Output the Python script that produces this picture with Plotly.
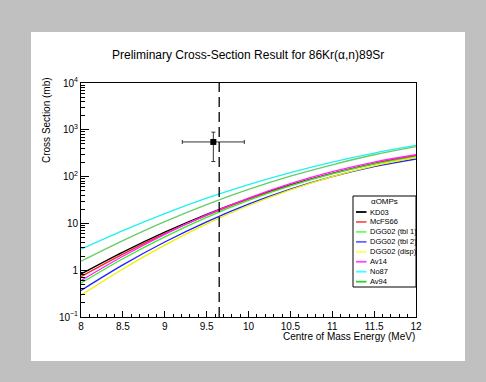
import plotly.graph_objects as go

# ---------------- data ----------------
energy = [8.0, 8.5, 9.0, 9.5, 10.0, 10.5, 11.0, 11.5, 12.0]

series_names = ["KD03", "McFS66", "DGG02 (tbl 1)", "DGG02 (tbl 2)", "DGG02 (disp)", "Av14", "No87", "Av94"]
series_colors = ["#000000", "#ff2020", "#33ee33", "#2020ff", "#f0f000", "#ff20ff", "#20f0f0", "#66cc66"]
legend_colors = ["#000000", "#ff5555", "#66ff66", "#6666ff", "#ffff55", "#ff44ff", "#44ffff", "#33cc33"]

kd03 = [0.83, 2.44, 6.51, 15.7, 33.9, 66.2, 117, 190, 279]
mcfs66 = [0.73, 2.21, 6.07, 14.9, 33.0, 65.3, 117, 190, 281]
dgg02_tbl1 = [0.53, 1.76, 5.17, 13.5, 31.0, 63.1, 114, 185, 268]
dgg02_tbl2 = [0.37, 1.30, 4.00, 10.8, 25.8, 54.0, 99.5, 163, 238]
dgg02_disp = [0.29, 1.06, 3.43, 9.73, 24.1, 52.3, 100, 170, 256]
av14 = [0.60, 1.99, 5.84, 15.2, 34.7, 70.5, 127, 204, 293]
no87 = [2.8, 7.0, 16.2, 34.6, 67.5, 122, 205, 319, 464]
av94 = [1.55, 4.28, 10.9, 25.2, 53.1, 102, 179, 293, 439]
series_values = [kd03, mcfs66, dgg02_tbl1, dgg02_tbl2, dgg02_disp, av14, no87, av94]

# measured point
meas_E = [9.58]
meas_xs = [550]
meas_E_err = [0.37]
meas_xs_err = [340]

threshold_E = 9.65

x_tickvals = [8, 8.5, 9, 9.5, 10, 10.5, 11, 11.5, 12]
x_ticktext = ["8", "8.5", "9", "9.5", "10", "10.5", "11", "11.5", "12"]
y_tickvals = [0.1, 1, 10, 100, 1000, 10000]
y_ticktext = ["10<sup>−1</sup>", "1", "10", "10<sup>2</sup>", "10<sup>3</sup>", "10<sup>4</sup>"]
y_minor = [m * 10 ** d for d in range(-1, 4) for m in range(2, 10)]

title_text = "Preliminary Cross-Section Result for 86Kr(α,n)89Sr"
x_title = "Centre of Mass Energy (MeV)"
y_title = "Cross Section (mb)"
legend_title = "αOMPs"

# ---------------- layout geometry ----------------
# white pad (the figure) placed inside a grey page
PAD_X, PAD_Y, PAD_W, PAD_H = 31, 32, 434, 329
L, T, PW, PH = 81, 83, 335, 234          # plot area in window pixels
FONT = "Liberation Sans, Arial, Helvetica, sans-serif"
GRAY = "#c0c0c0"


def px(x):
    return (x - L) / PW


def py(y):
    return (T + PH - y) / PH


fig = go.Figure()

for name, vals, col in zip(series_names, series_values, series_colors):
    fig.add_trace(go.Scatter(x=energy, y=vals, mode="lines", name=name,
                             line=dict(color=col, width=1.3, shape="spline"),
                             showlegend=False))

fig.add_trace(go.Scatter(
    x=meas_E, y=meas_xs, mode="markers", showlegend=False,
    marker=dict(symbol="square", size=6, color="black"),
    error_x=dict(type="data", array=meas_E_err, color="#333333", thickness=1, width=2),
    error_y=dict(type="data", array=meas_xs_err, color="#333333", thickness=1, width=2),
))

fig.update_layout(
    width=PAD_W, height=PAD_H,
    margin=dict(l=L - PAD_X, r=PAD_X + PAD_W - L - PW, t=T - PAD_Y, b=PAD_Y + PAD_H - T - PH, pad=0),
    paper_bgcolor="white", plot_bgcolor="white",
    font=dict(family=FONT, size=10, color="black"),
    showlegend=False,
)

fig.add_vline(x=threshold_E, line=dict(color="black", width=1.3, dash="10px,5px"))

# legend drawn by hand (ROOT-style compact box)
fig.add_shape(type="rect", xref="paper", yref="paper", x0=px(353), x1=px(416), y0=py(287), y1=py(196),
              fillcolor="white", line=dict(color="black", width=1), layer="above")
fig.add_annotation(text=legend_title, xref="paper", yref="paper", x=px(384.5), y=py(201.5), showarrow=False,
                   xanchor="center", yanchor="middle", font=dict(size=8, color="black", family=FONT))
for i, (name, col) in enumerate(zip(series_names, legend_colors)):
    yy = 212 + i * 9.95
    fig.add_shape(type="line", xref="paper", yref="paper", x0=px(356), x1=px(366.5),
                  y0=py(yy), y1=py(yy), line=dict(color=col, width=1.8), layer="above")
    fig.add_annotation(text=name, xref="paper", yref="paper", x=px(367.5), y=py(yy),
                       showarrow=False, xanchor="left", yanchor="middle",
                       font=dict(size=7.5, color="black", family=FONT))

fig.add_annotation(text=title_text, xref="paper", yref="paper", x=px(248), y=py(55), showarrow=False,
                   xanchor="center", yanchor="middle", font=dict(size=12, color="black", family=FONT))
fig.add_annotation(text=x_title, xref="paper", yref="paper", x=px(417), y=py(336), showarrow=False,
                   xanchor="right", yanchor="middle", font=dict(size=10, color="black", family=FONT))
fig.add_annotation(text=y_title, xref="paper", yref="paper", x=px(46), y=py(120), showarrow=False,
                   textangle=-90, xanchor="center", yanchor="middle",
                   font=dict(size=10, color="black", family=FONT))

fig.update_xaxes(range=[8, 12], tickmode="array", tickvals=x_tickvals, ticktext=x_ticktext,
                 ticks="inside", ticklen=6, tickcolor="black", tickwidth=1,
                 minor=dict(dtick=0.1, ticks="inside", ticklen=3, tickcolor="black"),
                 showline=True, linecolor="black", linewidth=1, mirror=True,
                 showgrid=False, zeroline=False, tickfont=dict(size=10))
fig.update_yaxes(type="log", range=[-1, 4], tickmode="array", tickvals=y_tickvals, ticktext=y_ticktext,
                 ticks="inside", ticklen=8, tickcolor="black", tickwidth=1,
                 minor=dict(tickmode="array", tickvals=y_minor, ticks="inside", ticklen=4, tickcolor="black"),
                 showline=True, linecolor="black", linewidth=1, mirror=True,
                 showgrid=False, zeroline=False, tickfont=dict(size=10))

post = ("document.documentElement.style.background='%s';"
        "document.body.style.margin='0';document.body.style.background='%s';"
        "document.body.style.overflow='hidden';"
        "var d=document.getElementById('{plot_id}');d.style.position='absolute';"
        "d.style.left='%dpx';d.style.top='%dpx';") % (GRAY, GRAY, PAD_X, PAD_Y)

fig.write_html("out.html", config={"displayModeBar": False}, post_script=post)
